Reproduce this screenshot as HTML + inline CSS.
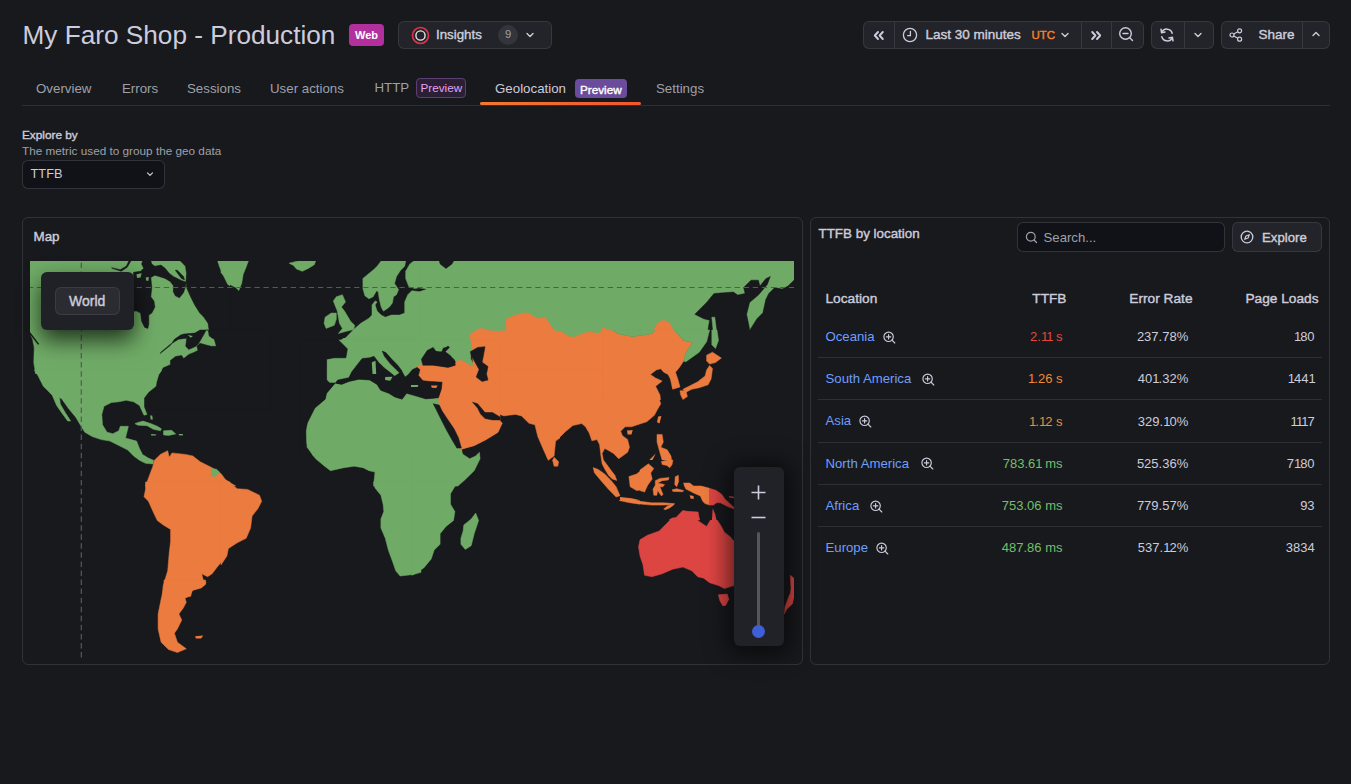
<!DOCTYPE html>
<html><head><meta charset="utf-8">
<style>
*{box-sizing:border-box;margin:0;padding:0}
html,body{width:1351px;height:784px;overflow:hidden;background:#18191d;font-family:"Liberation Sans",sans-serif;color:#ccccdc}
.abs{position:absolute}
.t{position:absolute;white-space:nowrap;line-height:1}
.med{-webkit-text-stroke:0.4px currentColor}
.btn{position:absolute;background:#232429;border:1px solid rgba(204,204,220,0.12);border-radius:6px}
.div{position:absolute;top:0;bottom:0;width:1px;background:rgba(204,204,220,0.12)}
svg{position:absolute;overflow:visible}
.tab{position:absolute;top:82.2px;font-size:13.3px;color:#9fa0aa;white-space:nowrap;line-height:1}
.panel{position:absolute;border:1px solid rgba(204,204,220,0.14);border-radius:6px}
.row{position:absolute;left:818px;width:504px;height:1px;background:rgba(204,204,220,0.12)}
.lnk{position:absolute;left:825.5px;font-size:13.2px;color:#6e9fff;white-space:nowrap;line-height:1}
.num{position:absolute;font-size:13px;white-space:nowrap;line-height:1;text-align:right}
</style></head><body>

<!-- Title -->
<div class="t" style="left:22.5px;top:21.6px;font-size:26.2px;color:#ccccdc">My Faro Shop - Production</div>
<div class="abs" style="left:349px;top:24px;width:35px;height:22px;background:#b1309e;border-radius:4px"></div>
<div class="t" style="left:355px;top:29.6px;font-size:11px;font-weight:700;color:#fff">Web</div>

<!-- Insights -->
<div class="btn" style="left:398px;top:21px;width:154px;height:28px"></div>
<svg style="left:411px;top:26px" width="19" height="19" viewBox="0 0 19 19"><circle cx="9.5" cy="9.5" r="8" fill="none" stroke="#e8324a" stroke-width="1.6"/><circle cx="9.5" cy="9.5" r="4.6" fill="none" stroke="#e6e6ee" stroke-width="1.4"/></svg>
<div class="t med" style="left:436px;top:27.7px;font-size:13.3px">Insights</div>
<div class="abs" style="left:498px;top:25px;width:20px;height:20px;border-radius:10px;background:#34353b"></div>
<div class="t" style="left:505px;top:29.4px;font-size:11.2px;color:#9fa0aa">9</div>
<svg style="left:525px;top:30px" width="10" height="10" viewBox="0 0 10 10"><path d="M2 3.5 L5 6.5 L8 3.5" fill="none" stroke="#ccccdc" stroke-width="1.4" stroke-linecap="round" stroke-linejoin="round"/></svg>

<!-- Time controls -->
<div class="btn" style="left:863px;top:21px;width:281px;height:28px">
  <div class="div" style="left:30px"></div>
  <div class="div" style="left:217px"></div>
  <div class="div" style="left:247px"></div>
</div>
<svg style="left:873px;top:30.5px" width="12" height="9" viewBox="0 0 12 9"><path d="M5 1 L1.8 4.5 L5 8 M9.8 1 L6.6 4.5 L9.8 8" fill="none" stroke="#ccccdc" stroke-width="1.9" stroke-linecap="round" stroke-linejoin="round"/></svg>
<svg style="left:902px;top:27px" width="16" height="16" viewBox="0 0 16 16"><circle cx="8" cy="8" r="6.6" fill="none" stroke="#ccccdc" stroke-width="1.3"/><path d="M8.4 4.3 V8.6 H5.6" fill="none" stroke="#ccccdc" stroke-width="1.3" stroke-linecap="round"/></svg>
<div class="t med" style="left:925.5px;top:27.9px;font-size:13.5px">Last 30 minutes</div>
<div class="t med" style="left:1031.5px;top:29.5px;font-size:11.5px;color:#f5832b">UTC</div>
<svg style="left:1060px;top:30px" width="10" height="10" viewBox="0 0 10 10"><path d="M2 3.5 L5 6.5 L8 3.5" fill="none" stroke="#ccccdc" stroke-width="1.4" stroke-linecap="round" stroke-linejoin="round"/></svg>
<svg style="left:1090px;top:30.5px" width="12" height="9" viewBox="0 0 12 9"><path d="M2.2 1 L5.4 4.5 L2.2 8 M7 1 L10.2 4.5 L7 8" fill="none" stroke="#ccccdc" stroke-width="1.9" stroke-linecap="round" stroke-linejoin="round"/></svg>
<svg style="left:1118px;top:26px" width="17" height="17" viewBox="0 0 17 17"><circle cx="7.5" cy="7.5" r="5.8" fill="none" stroke="#ccccdc" stroke-width="1.4"/><path d="M5 7.5 H10 M11.8 11.8 L14.5 14.5" fill="none" stroke="#ccccdc" stroke-width="1.4" stroke-linecap="round"/></svg>

<div class="btn" style="left:1151px;top:21px;width:63px;height:28px">
  <div class="div" style="left:32px"></div>
</div>
<svg style="left:1158px;top:26px" width="18" height="18" viewBox="0 0 18 18"><path d="M14.2 7.2 A5.6 5.6 0 0 0 3.8 6.2 M3.8 10.8 A5.6 5.6 0 0 0 14.2 11.8" fill="none" stroke="#ccccdc" stroke-width="1.5" stroke-linecap="round"/><path d="M3 3.2 L3.6 6.8 L7 6" fill="none" stroke="#ccccdc" stroke-width="1.5" stroke-linecap="round" stroke-linejoin="round"/><path d="M15 14.8 L14.4 11.2 L11 12" fill="none" stroke="#ccccdc" stroke-width="1.5" stroke-linecap="round" stroke-linejoin="round"/></svg>
<svg style="left:1193px;top:30px" width="10" height="10" viewBox="0 0 10 10"><path d="M2 3.5 L5 6.5 L8 3.5" fill="none" stroke="#ccccdc" stroke-width="1.4" stroke-linecap="round" stroke-linejoin="round"/></svg>

<div class="btn" style="left:1221px;top:21px;width:109px;height:28px">
  <div class="div" style="left:80px"></div>
</div>
<svg style="left:1229px;top:28px" width="14" height="14" viewBox="0 0 14 14"><circle cx="10.6" cy="2.8" r="2" fill="none" stroke="#ccccdc" stroke-width="1.2"/><circle cx="3" cy="7" r="2" fill="none" stroke="#ccccdc" stroke-width="1.2"/><circle cx="10.6" cy="11.2" r="2" fill="none" stroke="#ccccdc" stroke-width="1.2"/><path d="M4.8 6 L8.8 3.8 M4.8 8 L8.8 10.2" stroke="#ccccdc" stroke-width="1.2"/></svg>
<div class="t med" style="left:1258.5px;top:28px;font-size:13.5px">Share</div>
<svg style="left:1311px;top:29px" width="10" height="10" viewBox="0 0 10 10"><path d="M2 6.5 L5 3.5 L8 6.5" fill="none" stroke="#ccccdc" stroke-width="1.4" stroke-linecap="round" stroke-linejoin="round"/></svg>

<!-- Tabs -->
<div class="abs" style="left:22px;top:105px;width:1308px;height:1px;background:rgba(204,204,220,0.12)"></div>
<div class="tab" style="left:36px">Overview</div>
<div class="tab" style="left:122px">Errors</div>
<div class="tab" style="left:187px">Sessions</div>
<div class="tab" style="left:270px">User actions</div>
<div class="tab" style="left:374.5px;top:81.3px">HTTP</div>
<div class="abs" style="left:416px;top:78px;width:50px;height:20px;background:#2a1f34;border:1px solid #5c3f73;border-radius:4px"></div>
<div class="t" style="left:420.5px;top:82.3px;font-size:11.7px;color:#e2a4f5">Preview</div>
<div class="tab" style="left:495px;color:#ccccdc">Geolocation</div>
<div class="abs" style="left:575px;top:79px;width:52px;height:19px;background:#6b4c9c;border-radius:4px"></div>
<div class="t med" style="left:580px;top:83.6px;font-size:11.7px;color:#fff">Preview</div>
<div class="tab" style="left:656px">Settings</div>
<div class="abs" style="left:480px;top:102px;width:161px;height:3px;border-radius:2px;background:linear-gradient(90deg,#f5782d,#f0562f)"></div>

<!-- Explore by -->
<div class="t med" style="left:22px;top:129.9px;font-size:11.8px">Explore by</div>
<div class="t" style="left:22px;top:144.8px;font-size:11.75px;color:#9fa0aa">The metric used to group the geo data</div>
<div class="abs" style="left:22px;top:160px;width:143px;height:29px;background:#111217;border:1px solid rgba(204,204,220,0.18);border-radius:6px"></div>
<div class="t" style="left:30.5px;top:168.1px;font-size:12.8px">TTFB</div>
<svg style="left:145px;top:169px" width="10" height="10" viewBox="0 0 10 10"><path d="M2.5 3.8 L5 6.3 L7.5 3.8" fill="none" stroke="#ccccdc" stroke-width="1.2" stroke-linecap="round" stroke-linejoin="round"/></svg>

<!-- Map panel -->
<div class="panel" style="left:22px;top:217px;width:781px;height:448px"></div>
<div class="t med" style="left:33.5px;top:229.9px;font-size:13.4px">Map</div>
<div id="map" class="abs" style="left:30px;top:261px;width:764px;height:397px;overflow:hidden">
<svg width="764" height="397" viewBox="0 0 764 397" style="left:0;top:0;position:absolute">
<polygon fill="#6fab66" points="0.0,-0.0 200.0,-0.0 200.0,113.1 0.0,113.1"/>
<polygon fill="#18191d" stroke="#18191d" stroke-width="0.5" points="0.0,73.9 2.0,77.9 3.8,86.9 3.2,100.9 5.0,112.5 14.0,127.9 23.0,135.5 29.4,148.3 31.0,150.1 0.0,150.1"/>
<polygon fill="#18191d" points="0.0,70.9 9.2,83.1 8.0,83.7 0.0,73.5"/>
<polygon fill="#18191d" stroke="#18191d" stroke-width="0.5" points="28.0,136.3 33.0,137.9 40.0,150.1 36.0,150.1 30.0,141.9"/>
<polygon fill="#18191d" stroke="#18191d" stroke-width="0.5" points="112.7,-0.1 120.8,-0.1 121.8,3.1 124.9,5.2 131.0,4.1 135.1,7.2 139.2,12.3 143.3,15.4 151.4,19.4 156.0,21.0 155.5,25.6 153.5,31.7 149.4,36.8 145.3,34.8 143.3,30.7 143.3,24.6 140.2,20.5 135.1,17.4 129.0,15.4 124.9,14.3 120.8,16.4 121.8,26.6 120.8,35.8 123.9,39.9 124.9,46.0 121.8,52.1 118.8,54.1 118.8,63.3 117.8,67.4 114.7,66.4 111.6,60.3 110.6,52.1 106.5,50.1 103.5,50.1 103.5,11.3 110.6,10.3 113.7,7.2 111.6,3.1"/>
<polygon fill="#18191d" stroke="#18191d" stroke-width="0.5" points="98.9,-0.1 100.9,-0.1 97.3,6.2 91.2,10.3 82.0,7.2 81.5,6.7 90.2,8.7 96.3,5.2"/>
<polygon fill="#6fab66" points="106.5,13.3 111.6,12.3 110.6,16.4 107.0,16.9"/>
<polygon fill="#6fab66" points="115.7,16.4 118.8,15.9 118.3,20.0 116.2,19.4"/>
<polygon fill="#18191d" stroke="#18191d" stroke-width="0.5" points="150.4,-0.1 187.1,-0.1 189.2,6.2 193.3,15.4 197.3,23.5 200.0,25.6 200.0,77.0 182.0,77.0 179.0,68.4 178.0,62.3 173.9,56.2 169.8,52.1 164.7,43.9 160.6,35.8 156.5,26.6 156.0,20.5 156.5,12.3 155.5,5.2"/>
<polygon fill="#18191d" stroke="#18191d" stroke-width="0.5" points="145.3,9.2 147.3,9.2 153.5,15.4 154.5,18.9 151.4,17.4"/>
<polygon fill="#18191d" stroke="#18191d" stroke-width="0.5" points="176.1,69.0 240.0,69.0 240.0,149.0 120.0,149.0 120.0,129.2 127.1,123.1 126.1,118.0 130.2,111.9 133.3,106.8 140.4,103.7 140.4,99.6 145.5,95.5 151.6,94.5 153.7,97.6 158.8,93.5 163.9,91.4 168.0,89.4 166.9,85.3 170.0,82.3 177.1,84.3 181.2,85.3 186.3,85.3 184.3,78.2 179.2,75.1 178.2,69.0"/>
<polygon fill="#18191d" stroke="#18191d" stroke-width="0.5" points="153.7,73.1 164.9,72.1 170.0,69.0 176.1,69.0 174.1,73.1 170.0,80.2 168.0,83.3 165.9,85.3 158.8,88.4 155.7,85.3 156.7,77.2 148.6,78.2 140.4,83.3 131.2,90.9 130.2,92.5 135.3,88.4 140.4,84.3 144.5,78.2 150.6,74.1"/>
<polygon fill="#6fab66" points="157.8,74.1 162.9,75.1 160.8,76.7"/>
<polygon fill="#6fab66" stroke="#6fab66" stroke-width="0.5" points="191.0,-0.0 218.4,-0.0 216.2,5.9 213.2,13.3 211.7,22.2 208.8,29.6 205.8,26.6 199.9,23.6 195.4,16.2 191.0,11.8"/>
<polygon fill="#6fab66" stroke="#6fab66" stroke-width="0.5" points="259.1,2.2 268.0,-0.0 285.7,-0.0 284.3,3.7 278.3,7.4 272.4,10.3 266.5,8.1 263.5,4.4"/>
<polygon fill="#6fab66" stroke="#6fab66" stroke-width="0.5" points="333.1,19.2 337.6,13.3 343.5,10.3 347.9,2.9 350.9,-0.0 375.3,-0.0 368.6,8.8 365.7,19.2 367.2,26.6 362.7,35.5 361.2,45.9 356.8,48.8 353.8,54.7 349.4,47.3 346.4,41.4 347.9,34.0 340.5,38.5 334.6,34.0 333.1,26.6"/>
<polygon fill="#6fab66" stroke="#6fab66" stroke-width="0.5" points="376.0,-0.0 391.0,-0.0 391.0,26.6 382.0,28.1 374.6,20.7 374.6,13.3 379.0,2.9"/>
<polygon fill="#6fab66" stroke="#6fab66" stroke-width="0.5" points="391.0,26.6 383.5,28.8 380.5,32.5 383.5,38.5 377.5,41.4 374.6,45.9 373.1,53.3 365.7,54.7 359.8,57.7 353.8,56.2 347.9,54.7 345.0,45.9 342.0,42.9 342.0,57.7 333.1,59.2 325.7,66.6 324.2,71.0 313.9,76.9 309.4,80.6 316.8,85.8 316.8,93.2 315.4,97.7 303.5,97.7 297.6,100.6 296.8,113.1 319.8,113.1 327.2,106.5 337.6,99.1 345.0,96.2 347.9,105.1 343.5,113.1 391.0,113.1"/>
<polygon fill="#18191d" stroke="#18191d" stroke-width="0.5" points="352.4,90.3 358.3,97.7 368.6,103.6 373.1,109.5 377.5,113.1 362.7,113.1 356.8,103.6 352.4,97.7"/>
<polygon fill="#6fab66" stroke="#6fab66" stroke-width="0.5" points="306.5,35.5 312.4,34.0 315.4,39.9 312.4,47.3 316.8,54.7 321.3,59.2 324.2,65.1 321.3,69.5 313.9,71.0 308.0,72.5 312.4,66.6 309.4,62.1 308.0,56.2 306.5,48.8 303.5,45.9 305.0,39.9"/>
<polygon fill="#6fab66" stroke="#6fab66" stroke-width="0.5" points="294.6,59.2 299.1,53.3 305.0,51.8 306.5,57.7 303.5,63.6 296.1,66.6"/>
<polygon fill="#6fab66" stroke="#6fab66" stroke-width="0.5" points="342.0,42.9 346.4,39.9 347.9,45.9 350.9,51.8 347.9,56.2 345.0,54.7 342.0,56.2"/>
<polygon fill="#6fab66" points="382.0,-0.0 582.0,-0.0 582.0,113.1 382.0,113.1"/>
<polygon fill="#18191d" stroke="#18191d" stroke-width="0.5" points="409.4,-0.0 423.5,-0.0 422.0,2.9 416.0,7.4 410.1,2.9"/>
<polygon fill="#18191d" points="382.0,26.6 396.8,28.1 387.9,31.0 382.0,31.8"/>
<polygon fill="#18191d" stroke="#18191d" stroke-width="0.5" points="392.4,100.6 396.8,88.8 401.2,86.6 405.7,90.3 411.6,91.7 413.1,87.3 419.7,85.1 414.6,90.3 420.5,94.7 426.4,102.1 422.0,106.5 404.2,105.1 395.3,103.6"/>
<polygon fill="#eb7b3e" stroke="#eb7b3e" stroke-width="0.5" points="386.4,113.1 387.9,103.6 404.2,105.1 422.0,106.5 426.4,100.6 430.9,99.1 441.2,105.1 447.1,109.5 447.1,113.1"/>
<polygon fill="#eb7b3e" stroke="#eb7b3e" stroke-width="0.5" points="439.7,74.0 445.7,69.5 451.6,67.3 459.0,69.5 466.4,70.3 476.7,69.5 475.3,65.1 476.7,57.7 485.6,54.0 496.0,51.8 500.4,53.3 507.8,57.7 515.2,56.2 524.1,69.5 531.5,71.0 538.9,75.5 544.8,76.2 552.2,72.5 559.6,71.0 570.0,72.5 573.0,66.6 578.9,68.1 582.0,71.0 582.0,113.1 456.0,113.1 459.0,105.1 454.5,100.6 451.6,94.7 456.0,91.7 454.5,85.8 447.1,87.3 444.2,85.8 441.2,81.4"/>
<polygon fill="#18191d" stroke="#18191d" stroke-width="0.5" points="441.2,91.7 447.1,87.3 454.5,85.8 456.0,91.7 451.6,94.7 454.5,100.6 459.0,105.1 456.0,113.1 447.1,113.1 444.2,103.6 441.2,97.7"/>
<polygon fill="#6fab66" points="573.0,-0.0 764.0,-0.0 764.0,113.1 573.0,113.1"/>
<polygon fill="#18191d" stroke="#18191d" stroke-width="0.5" points="764.0,19.2 758.0,25.1 752.1,28.1 744.7,26.6 738.8,32.5 735.8,38.5 732.9,51.8 727.0,57.7 719.6,69.5 715.1,75.5 706.2,84.3 697.4,90.3 691.4,94.7 685.5,103.6 682.5,113.1 764.0,113.1"/>
<polygon fill="#18191d" stroke="#18191d" stroke-width="0.5" points="664.8,53.3 676.6,41.4 684.0,32.5 703.3,31.0 707.7,34.0 715.1,32.5 713.6,26.6 721.0,19.2 728.4,19.2 729.9,25.1 735.8,17.7 740.3,15.5 737.3,23.6 728.4,34.0 719.6,41.4 716.6,53.3 719.6,68.1 715.1,75.5 706.2,84.3 697.4,90.3 691.4,94.7 685.5,103.6 682.5,113.1 645.5,113.1 651.5,106.5 660.3,100.6 669.2,91.7 676.6,76.9 679.6,59.2 673.7,57.7"/>
<polygon fill="#6fab66" stroke="#6fab66" stroke-width="0.5" points="681.8,56.2 684.8,56.2 687.0,74.0 688.5,79.9 685.5,87.3 682.5,84.3 683.3,71.0"/>
<polygon fill="#eb7b3e" stroke="#eb7b3e" stroke-width="0.5" points="676.6,93.2 682.5,91.7 691.4,97.7 685.5,102.1 679.6,103.6 676.6,100.6"/>
<polygon fill="#eb7b3e" points="676.6,103.6 681.1,103.6 679.6,113.1 676.6,113.1"/>
<polygon fill="#eb7b3e" stroke="#eb7b3e" stroke-width="0.5" points="573.0,65.8 580.4,71.0 590.8,74.0 602.6,75.5 611.5,73.2 620.4,74.0 627.8,62.1 633.7,59.2 639.6,62.1 644.1,71.0 652.9,76.9 655.9,81.4 663.3,81.4 660.3,88.8 655.9,93.2 654.4,100.6 645.5,113.1 573.0,113.1"/>
<polygon fill="#eb7b3e" points="621.9,113.1 629.3,108.0 635.2,109.5 639.6,113.1"/>
<polygon fill="#6fab66" stroke="#6fab66" stroke-width="0.5" points="4.4,109.0 131.8,109.0 128.8,113.4 126.6,120.8 125.8,125.3 118.4,131.2 114.0,137.1 114.0,146.0 117.0,153.4 114.0,154.2 109.5,144.5 103.6,140.8 96.2,139.3 88.8,140.8 81.4,141.6 74.0,145.3 71.8,153.4 72.5,163.8 77.0,171.2 82.9,172.7 88.8,169.7 90.3,165.3 98.4,165.3 95.5,177.1 106.6,180.1 109.5,187.5 112.5,193.4 118.4,197.1 123.6,199.3 122.9,203.0 115.5,202.3 109.5,199.3 103.6,194.9 97.7,188.9 88.8,184.5 79.9,180.1 71.1,178.6 62.2,175.6 54.8,171.2 51.1,165.3 45.9,156.4 38.5,147.5 31.8,137.9 29.6,136.4 30.3,143.0 35.5,151.9 40.7,160.1 37.7,160.1 31.8,151.9 26.6,144.5 22.2,134.2 17.8,129.7 13.3,125.3 8.1,114.9"/>
<polygon fill="#eb7b3e" stroke="#eb7b3e" stroke-width="0.5" points="115.5,225.1 122.9,205.2 124.4,199.3 130.3,193.4 137.7,189.7 139.2,196.3 142.1,191.9 155.4,193.4 162.8,194.9 170.2,200.8 182.1,206.7 191.0,212.6 195.4,218.5 200.0,221.5 200.0,225.1"/>
<polygon fill="#6fab66" stroke="#6fab66" stroke-width="0.5" points="181.3,207.4 186.5,208.2 189.5,211.1 185.0,215.6 181.3,214.8"/>
<polygon fill="#6fab66" stroke="#6fab66" stroke-width="0.5" points="297.6,109.0 318.3,109.0 319.8,113.4 315.4,117.9 308.0,120.1 303.5,120.8 297.6,117.9 296.1,112.0"/>
<polygon fill="#6fab66" stroke="#6fab66" stroke-width="0.5" points="305.0,122.3 309.4,123.8 316.8,122.3 324.2,120.8 333.1,120.1 346.4,119.4 347.9,126.8 353.8,131.2 365.7,135.6 370.1,138.6 373.1,134.2 377.5,132.7 391.0,135.6 391.0,225.1 343.5,225.1 345.0,211.1 339.0,209.7 333.1,206.7 324.2,205.2 313.9,206.7 300.5,209.7 294.6,205.2 285.7,197.8 281.3,191.9 276.9,186.0 278.3,172.7 276.9,165.3 279.8,157.9 285.7,149.0 291.7,144.5 296.1,140.1 296.1,134.2 300.5,129.7 303.5,125.3"/>
<polygon fill="#6fab66" points="342.0,109.0 345.7,109.0 345.0,112.7 342.0,112.7"/>
<polygon fill="#6fab66" points="352.4,115.7 361.2,114.2 358.3,119.4"/>
<polygon fill="#6fab66" points="371.6,109.0 383.5,109.0 383.5,120.8 374.6,117.9"/>
<polygon fill="#eb7b3e" points="386.4,109.0 391.0,109.0 391.0,117.9 387.9,114.9"/>
<polygon fill="#eb7b3e" stroke="#eb7b3e" stroke-width="0.5" points="191.0,215.6 194.0,218.5 199.9,221.5 205.8,225.1 191.0,225.1"/>
<polygon fill="#eb7b3e" stroke="#eb7b3e" stroke-width="0.5" points="387.9,109.0 582.0,109.0 582.0,187.5 574.5,189.7 573.0,196.3 582.0,209.7 582.0,225.1 578.9,225.1 574.5,212.6 568.5,200.8 567.0,191.9 567.0,178.6 559.6,178.6 556.7,168.2 552.2,163.8 541.9,165.3 536.0,172.7 525.6,180.1 524.1,194.9 518.2,199.3 512.3,186.0 507.8,175.6 504.9,163.8 499.0,162.3 491.5,154.9 485.6,153.4 473.8,154.9 464.9,151.2 472.3,162.3 467.9,171.2 456.0,178.6 444.2,184.5 430.9,188.2 426.4,180.1 419.0,165.3 411.6,149.0 405.7,143.0 408.6,138.6 411.6,128.2 411.6,120.8 405.7,120.1 396.8,120.8 390.9,117.9"/>
<polygon fill="#18191d" stroke="#18191d" stroke-width="0.5" points="442.7,140.8 447.1,140.1 451.6,146.0 459.0,149.7 464.2,149.0 466.4,153.4 472.3,160.8 469.3,159.3 461.9,153.4 456.0,157.1 451.6,153.4 447.9,151.9 445.7,146.0"/>
<polygon fill="#18191d" stroke="#18191d" stroke-width="0.5" points="445.7,109.0 457.5,109.0 457.5,119.4 451.6,120.1 445.7,116.4"/>
<polygon fill="#6fab66" stroke="#6fab66" stroke-width="0.5" points="382.0,135.6 396.8,137.1 405.7,140.1 405.7,144.5 411.6,157.9 419.0,171.2 426.4,183.0 430.9,191.9 439.7,197.8 445.7,194.9 449.4,191.2 450.1,197.8 444.2,209.7 435.3,218.5 427.9,225.1 382.0,225.1"/>
<polygon fill="#eb7b3e" stroke="#eb7b3e" stroke-width="0.5" points="524.1,196.3 528.6,200.8 527.8,205.2 524.1,205.2 522.6,199.3"/>
<polygon fill="#eb7b3e" stroke="#eb7b3e" stroke-width="0.5" points="573.0,109.0 623.3,109.0 621.9,113.4 626.3,119.4 632.2,123.8 629.3,126.8 624.8,131.2 629.3,138.6 626.3,147.5 620.4,154.9 613.0,160.8 605.6,163.8 598.2,165.3 590.8,171.2 593.7,175.6 598.2,183.0 596.7,191.9 589.3,197.8 581.9,191.9 576.0,187.5 573.0,186.0"/>
<polygon fill="#eb7b3e" stroke="#eb7b3e" stroke-width="0.5" points="629.3,109.0 650.0,109.0 648.5,117.9 647.0,125.3 642.6,123.8 638.1,117.9 630.7,114.9"/>
<polygon fill="#eb7b3e" stroke="#eb7b3e" stroke-width="0.5" points="679.6,109.0 682.5,109.0 679.6,117.9 673.7,125.3 661.8,131.2 654.4,138.6 651.5,137.1 654.4,129.7 664.8,128.2 676.6,120.8"/>
<polygon fill="#eb7b3e" points="627.8,154.9 630.7,154.9 629.3,162.3 626.3,162.3"/>
<polygon fill="#eb7b3e" points="596.7,169.7 602.6,169.0 601.1,174.1 596.7,174.1"/>
<polygon fill="#eb7b3e" stroke="#eb7b3e" stroke-width="0.5" points="626.3,174.1 632.2,172.7 633.7,183.0 638.1,188.9 641.1,194.9 642.6,205.2 636.7,205.2 632.2,197.8 629.3,188.9 624.8,183.0"/>
<polygon fill="#eb7b3e" stroke="#eb7b3e" stroke-width="0.5" points="573.0,200.8 578.9,206.7 584.8,215.6 587.8,225.1 573.0,225.1"/>
<polygon fill="#eb7b3e" stroke="#eb7b3e" stroke-width="0.5" points="598.2,225.1 608.5,212.6 617.4,205.2 620.4,209.7 623.3,215.6 621.9,225.1"/>
<polygon fill="#eb7b3e" stroke="#eb7b3e" stroke-width="0.5" points="623.3,225.1 626.3,218.5 635.2,217.1 641.1,221.5 644.1,225.1"/>
<polygon fill="#eb7b3e" stroke="#eb7b3e" stroke-width="0.5" points="115.5,221.0 200.0,221.0 200.0,283.2 195.4,290.6 192.5,299.5 186.5,306.9 182.1,312.8 177.6,315.7 171.7,312.8 173.2,318.7 176.2,321.7 171.7,326.1 162.8,329.1 159.9,333.5 155.4,337.1 131.8,337.1 133.2,324.6 137.7,309.8 139.2,292.1 140.6,280.2 140.6,268.4 133.2,263.9 127.3,259.5 124.4,253.6 118.4,240.2 114.0,235.8 115.5,228.4"/>
<polygon fill="#eb7b3e" stroke="#eb7b3e" stroke-width="0.5" points="191.0,221.0 199.9,222.5 207.3,227.7 217.6,228.4 229.5,234.3 231.7,240.2 228.0,247.6 222.1,255.0 220.6,266.9 216.2,277.3 207.3,281.7 198.4,287.6 196.9,295.0 191.0,303.9"/>
<polygon fill="#6fab66" stroke="#6fab66" stroke-width="0.5" points="343.5,221.0 391.0,221.0 391.0,311.3 383.5,313.5 370.1,315.0 365.7,309.8 362.7,300.9 358.3,289.1 355.3,277.3 350.9,266.9 350.9,258.0 353.8,250.6 353.1,243.2 350.9,234.3 345.0,226.9"/>
<polygon fill="#6fab66" stroke="#6fab66" stroke-width="0.5" points="382.0,221.0 429.4,221.0 424.9,225.4 420.5,232.8 420.5,243.2 424.9,250.6 423.5,259.5 416.0,265.4 410.1,272.8 410.1,283.2 404.2,289.1 401.2,298.0 393.8,306.9 382.0,314.3"/>
<polygon fill="#6fab66" stroke="#6fab66" stroke-width="0.5" points="445.7,252.1 448.6,259.5 444.2,272.8 441.2,284.7 435.3,288.4 430.9,283.2 430.9,277.3 433.1,269.9 433.8,263.9 441.2,258.0"/>
<polygon fill="#eb7b3e" points="573.0,221.0 582.0,221.0 582.0,231.4 577.4,226.9"/>
<polygon fill="#dd4543" stroke="#dd4543" stroke-width="0.5" points="610.0,278.7 617.4,274.3 629.3,269.9 635.2,263.9 641.1,258.0 650.0,255.0 654.4,249.9 661.8,251.3 667.7,255.0 667.7,259.5 676.6,265.4 681.1,258.0 682.5,249.1 685.5,256.5 691.4,265.4 694.4,271.3 700.3,275.8 704.0,280.2 704.0,324.6 694.4,327.6 688.5,324.6 679.6,321.7 673.7,317.2 667.7,315.7 661.8,309.8 652.9,306.1 642.6,308.3 632.2,312.8 621.9,315.7 614.5,314.3 613.0,303.9 610.0,295.0 608.5,286.1"/>
<polygon fill="#dd4543" stroke="#dd4543" stroke-width="0.5" points="679.6,227.7 690.0,232.8 695.9,238.8 703.3,246.2 701.8,248.4 691.4,243.2 685.5,240.2 679.6,243.9"/>
<polygon fill="#eb7b3e" stroke="#eb7b3e" stroke-width="0.5" points="655.9,224.0 664.8,224.7 670.7,226.9 679.6,227.7 679.6,243.9 673.7,240.2 667.7,234.3 660.3,229.9 655.9,228.4"/>
<polygon fill="#eb7b3e" stroke="#eb7b3e" stroke-width="0.5" points="573.0,221.0 584.8,221.0 590.8,232.8 587.8,235.8 581.9,229.9 573.0,224.0"/>
<polygon fill="#eb7b3e" stroke="#eb7b3e" stroke-width="0.5" points="587.8,235.8 599.6,237.3 611.5,240.2 617.4,243.2 610.0,243.2 599.6,241.7 589.3,239.5"/>
<polygon fill="#eb7b3e" stroke="#eb7b3e" stroke-width="0.5" points="599.6,221.0 617.4,221.0 615.9,229.9 608.5,229.9 601.1,226.9"/>
<polygon fill="#eb7b3e" stroke="#eb7b3e" stroke-width="0.5" points="623.3,224.0 632.2,224.0 632.2,234.3 627.8,232.8 624.8,229.9"/>
<polygon fill="#eb7b3e" stroke="#eb7b3e" stroke-width="0.5" points="617.4,243.2 635.2,242.5 642.6,243.9 635.2,247.6 624.8,245.4"/>
<polygon fill="#dd4543" stroke="#dd4543" stroke-width="0.5" points="760.3,314.3 764.0,317.2 764.0,337.1 759.5,337.1 761.0,327.6"/>
<polygon fill="#eb7b3e" stroke="#eb7b3e" stroke-width="0.5" points="134.0,319.0 175.5,319.0 175.5,323.4 171.1,327.1 162.2,329.4 160.7,335.3 154.8,336.8 156.3,341.2 153.3,347.1 148.9,353.0 151.8,359.0 147.4,367.9 144.4,372.3 147.4,381.2 156.3,387.8 147.4,391.5 138.5,388.6 131.1,381.2 128.1,367.9 128.1,353.0 131.1,338.2 134.0,327.9"/>
<polygon fill="#eb7b3e" points="165.1,375.3 173.3,374.5 171.1,377.5 165.9,377.5"/>
<polygon fill="#dd4543" stroke="#dd4543" stroke-width="0.5" points="688.4,333.8 697.3,333.1 698.8,338.2 695.8,344.2 692.9,344.9 689.9,339.7"/>
<polygon fill="#dd4543" stroke="#dd4543" stroke-width="0.5" points="759.5,333.8 763.9,335.3 762.5,342.7 756.5,348.6 754.3,353.0 755.0,345.6"/>
<polygon fill="#6fab66" stroke="#6fab66" stroke-width="0.5" points="308.5,79.0 440.2,79.0 424.0,99.0 418.0,84.9 403.2,86.4 397.3,89.4 391.4,98.2 388.4,103.4 387.0,106.4 382.5,108.6 378.1,113.8 375.1,116.0 372.1,110.8 369.2,112.3 364.7,115.3 360.3,111.6 354.4,107.1 348.5,101.2 344.0,95.3 339.6,96.8 332.2,97.5 329.2,101.2 321.8,110.8 318.9,116.7 307.7,119.0 305.5,121.9 299.6,121.9 296.6,119.0 296.6,98.2 304.0,96.8 315.9,96.8 317.4,87.9"/>
<polygon fill="#6fab66" stroke="#6fab66" stroke-width="0.5" points="305.5,123.4 311.5,123.4 318.9,120.5 329.2,118.2 339.6,119.0 347.0,123.4 350.7,129.3 358.8,132.3 364.7,136.0 372.1,138.2 376.6,132.3 387.0,135.3 395.8,137.9 408.4,136.7 409.2,142.7 412.1,150.1 418.0,158.9 424.0,167.8 428.4,176.7 431.4,187.1 432.8,195.1 283.3,195.1 276.7,182.6 275.9,161.9 284.8,147.1 295.2,138.2 296.6,132.3 304.0,123.4"/>
<polygon fill="#eb7b3e" stroke="#eb7b3e" stroke-width="0.5" points="388.4,104.2 392.9,104.9 403.2,104.2 418.0,106.4 425.4,104.2 443.2,105.6 441.7,79.0 470.0,79.0 470.0,166.3 467.9,171.2 455.9,178.6 444.1,184.6 430.9,188.3 428.4,176.7 424.0,167.8 418.0,158.9 412.1,150.1 409.2,142.7 408.4,136.7 411.4,127.9 412.1,121.2 400.3,120.5 392.9,119.7 388.4,114.5"/>
<polygon fill="#18191d" stroke="#18191d" stroke-width="0.5" points="305.5,121.9 307.7,119.0 318.9,116.7 321.8,110.8 329.2,101.2 332.2,97.5 339.6,96.8 344.0,95.3 348.5,101.2 354.4,107.1 360.3,111.6 364.7,115.3 369.2,112.3 372.1,110.8 375.1,116.0 378.1,113.8 382.5,108.6 387.0,106.4 389.9,108.6 388.4,114.5 392.9,119.7 400.3,120.5 412.1,121.2 411.4,127.9 408.4,136.7 395.8,137.9 387.0,135.3 376.6,132.3 372.1,138.2 364.7,136.0 358.8,132.3 350.7,129.3 347.0,123.4 339.6,119.0 329.2,118.2 318.9,120.5 311.5,123.4"/>
<polygon fill="#18191d" stroke="#18191d" stroke-width="0.5" points="352.2,90.1 355.9,91.6 361.8,98.2 367.7,104.2 372.1,110.1 370.7,113.0 366.2,108.6 360.3,102.7 354.4,95.3"/>
<polygon fill="#6fab66" points="341.8,101.2 345.5,99.7 346.2,113.0 342.5,113.0"/>
<polygon fill="#6fab66" points="355.1,116.0 362.5,115.7 360.3,119.7 355.1,119.0"/>
<polygon fill="#6fab66" points="381.0,123.9 388.4,123.9 387.7,125.9 381.0,125.9"/>
<polygon fill="#eb7b3e" points="401.0,124.6 407.7,124.6 406.2,127.1 401.8,126.7"/>
<polygon fill="#18191d" stroke="#18191d" stroke-width="0.5" points="391.4,98.2 397.3,89.4 403.2,86.4 406.2,90.8 412.1,90.8 418.0,84.9 419.5,86.4 413.6,92.3 424.0,98.2 425.4,104.2 418.0,106.4 403.2,104.2 392.9,104.2"/>
<polygon fill="#18191d" stroke="#18191d" stroke-width="0.5" points="440.2,90.8 447.6,86.4 455.0,85.7 453.6,93.8 452.1,101.2 458.0,105.6 456.5,113.0 458.0,119.0 452.1,120.5 446.2,116.0 449.1,108.6 441.7,95.3"/>
<polygon fill="#18191d" stroke="#18191d" stroke-width="0.5" points="442.5,141.2 447.6,142.7 455.0,151.5 462.5,151.5 470.0,156.0 470.0,158.9 462.5,158.9 455.0,157.5 450.6,153.0 447.6,147.1"/>
<polygon fill="#18191d" stroke="#18191d" stroke-width="0.5" points="403.2,142.7 409.2,144.1 412.1,150.1 418.0,158.9 424.0,167.8 428.4,176.7 431.4,187.1 426.9,187.1 422.5,179.7 416.6,169.3 410.6,157.5 406.2,148.6"/>
<polygon fill="#18191d" stroke="#18191d" stroke-width="0.5" points="270.0,79.0 308.5,79.0 317.4,87.9 315.9,96.8 304.0,96.8 296.6,98.2 296.6,119.0 299.6,121.9 305.5,121.9 304.0,123.4 296.6,132.3 295.2,138.2 284.8,147.1 277.4,161.9 270.0,195.1"/>
<polygon fill="#18191d" points="573.0,69.0 773.0,69.0 773.0,185.1 573.0,185.1"/>
<polygon fill="#eb7b3e" stroke="#eb7b3e" stroke-width="0.5" points="573.0,69.0 581.9,69.0 587.8,72.7 602.6,75.7 621.9,72.7 624.8,69.0 644.1,69.0 653.7,79.4 662.6,81.6 655.9,91.2 653.7,100.1 649.2,106.7 645.5,111.2 647.8,117.9 650.0,126.0 642.6,128.2 640.4,117.9 638.1,113.4 633.7,111.2 630.7,107.8 626.3,109.0 620.4,113.4 625.6,117.1 632.2,120.1 625.6,125.3 630.0,134.1 630.7,141.5 626.3,148.9 624.1,157.8 613.0,162.3 602.6,165.2 592.2,168.2 590.8,172.6 596.7,178.5 598.9,185.1 573.0,185.1"/>
<polygon fill="#6fab66" stroke="#6fab66" stroke-width="0.5" points="581.9,69.0 624.8,69.0 621.9,72.7 602.6,75.7 587.8,72.7"/>
<polygon fill="#6fab66" stroke="#6fab66" stroke-width="0.5" points="644.1,69.0 679.6,69.0 676.6,80.8 669.2,91.2 655.9,100.8 653.7,100.1 655.9,91.2 662.6,81.6 653.7,79.4"/>
<polygon fill="#6fab66" stroke="#6fab66" stroke-width="0.5" points="681.8,69.0 687.0,69.0 688.5,79.4 685.5,87.5 681.8,83.8"/>
<polygon fill="#eb7b3e" stroke="#eb7b3e" stroke-width="0.5" points="676.6,94.2 682.5,91.2 691.4,97.1 685.5,101.6 679.6,103.0 676.6,100.1"/>
<polygon fill="#eb7b3e" stroke="#eb7b3e" stroke-width="0.5" points="679.6,104.5 682.5,107.5 681.1,117.9 678.1,123.8 669.2,126.7 661.8,128.2 655.9,131.2 652.9,128.2 658.9,125.3 667.7,120.8 675.1,114.9 676.6,109.0"/>
<polygon fill="#eb7b3e" stroke="#eb7b3e" stroke-width="0.5" points="650.0,129.7 655.9,129.7 657.4,135.6 652.9,138.6 650.7,134.1"/>
<polygon fill="#eb7b3e" points="626.3,155.6 630.7,154.9 629.3,163.7 626.3,162.3"/>
<polygon fill="#eb7b3e" points="626.3,172.6 632.2,172.6 633.0,185.1 627.0,185.1"/>
<polygon fill="#eb7b3e" points="596.7,168.9 602.6,168.2 601.9,173.4 597.4,173.4"/>
<polygon fill="#18191d" points="530.0,139.0 690.0,139.0 690.0,239.0 530.0,239.0"/>
<polygon fill="#eb7b3e" stroke="#eb7b3e" stroke-width="0.5" points="530.0,139.0 629.5,139.0 630.8,142.8 627.0,149.2 624.4,154.3 616.8,160.7 609.1,163.2 601.5,165.8 595.1,165.8 590.6,170.3 592.5,174.7 597.6,178.6 599.5,186.2 597.6,191.3 592.5,195.1 588.7,197.7 583.6,192.6 578.5,189.4 574.7,187.5 572.1,192.6 573.4,199.0 577.2,204.1 581.0,209.2 584.9,214.3 586.8,219.4 582.3,218.1 578.5,214.3 574.7,207.9 572.1,202.8 570.8,193.9 569.6,183.7 567.0,178.6 561.9,179.8 559.3,172.2 555.5,165.8 551.7,162.6 542.8,164.5 535.1,170.9 530.0,176.0"/>
<polygon fill="#eb7b3e" points="628.2,155.6 631.4,154.9 629.5,162.6 627.0,161.3"/>
<polygon fill="#eb7b3e" points="597.0,169.6 602.7,169.0 601.5,173.4 597.6,173.4"/>
<polygon fill="#eb7b3e" stroke="#eb7b3e" stroke-width="0.5" points="627.0,173.4 632.1,173.4 633.3,181.1 630.8,186.2 637.2,188.8 641.0,195.1 642.3,205.3 637.2,205.3 632.1,199.0 629.5,190.0 627.0,181.1"/>
<polygon fill="#eb7b3e" points="619.3,199.0 625.7,192.6 621.9,200.2"/>
<polygon fill="#eb7b3e" stroke="#eb7b3e" stroke-width="0.5" points="598.9,215.6 606.6,213.0 612.9,207.9 619.3,204.1 621.9,207.9 620.6,215.6 616.8,228.3 606.6,229.6 600.2,225.8"/>
<polygon fill="#eb7b3e" stroke="#eb7b3e" stroke-width="0.5" points="563.2,206.6 568.3,208.5 574.7,213.0 581.0,219.4 586.1,225.8 590.0,234.7 586.1,236.0 578.5,228.3 570.8,219.4 564.4,211.7"/>
<polygon fill="#eb7b3e" points="590.0,236.0 601.5,237.2 609.1,239.0 590.0,239.0"/>
<polygon fill="#eb7b3e" stroke="#eb7b3e" stroke-width="0.5" points="624.4,218.1 629.5,218.1 638.5,216.8 632.1,221.9 629.5,228.3 633.3,236.0 628.2,234.7 624.4,228.3"/>
<polygon fill="#eb7b3e" stroke="#eb7b3e" stroke-width="0.5" points="652.5,223.2 661.4,223.2 667.8,225.8 679.3,227.0 679.3,239.0 652.5,239.0"/>
<polygon fill="#dd4543" points="679.3,227.0 690.0,230.9 690.0,239.0 679.3,239.0"/>
<polygon fill="#eb7b3e" points="644.8,215.6 648.7,215.6 647.4,221.9"/>
<polygon fill="#6fab66" stroke="#6fab66" stroke-width="0.5" points="104.9,162.7 108.0,161.4 113.1,160.1 121.2,162.7 127.3,165.2 131.4,167.8 130.4,169.8 123.3,168.3 117.1,164.7 108.0,164.2"/>
<polygon fill="#6fab66" stroke="#6fab66" stroke-width="0.5" points="133.5,169.8 141.6,169.3 145.7,172.9 138.6,174.4 133.5,173.9"/>
<polygon fill="#6fab66" points="121.2,172.9 126.3,173.4 125.8,174.6 121.2,174.4"/>
<polygon fill="#6fab66" points="148.8,172.9 152.9,173.1 152.7,174.4 148.8,174.2"/>
<polygon fill="#6fab66" points="120.2,154.5 122.2,154.5 122.8,158.6 120.7,158.6"/>
<polygon fill="#18191d" points="610.0,199.0 710.0,199.0 710.0,259.0 610.0,259.0"/>
<polygon fill="#eb7b3e" stroke="#eb7b3e" stroke-width="0.5" points="610.0,208.9 618.4,202.8 623.8,207.4 620.7,212.0 622.2,218.1 617.7,224.2 614.6,231.1 610.0,229.6"/>
<polygon fill="#eb7b3e" stroke="#eb7b3e" stroke-width="0.5" points="625.3,219.7 629.9,217.4 639.1,216.6 638.3,218.9 632.2,219.7 627.6,222.0 634.5,223.5 633.0,225.8 629.9,225.8 633.0,233.4 631.4,235.0 627.6,229.6 626.8,234.2 623.8,234.2 623.0,228.1 625.3,224.2"/>
<polygon fill="#eb7b3e" stroke="#eb7b3e" stroke-width="0.5" points="631.4,200.5 637.5,199.0 642.9,199.0 642.1,203.6 639.8,206.7 636.8,204.4 632.2,203.6"/>
<polygon fill="#eb7b3e" stroke="#eb7b3e" stroke-width="0.5" points="645.2,215.8 648.3,214.3 648.6,220.4 646.7,225.8 644.8,223.5"/>
<polygon fill="#eb7b3e" stroke="#eb7b3e" stroke-width="0.5" points="642.1,228.8 646.7,227.7 653.6,229.6 652.8,230.8 642.9,230.4"/>
<polygon fill="#eb7b3e" stroke="#eb7b3e" stroke-width="0.5" points="653.6,222.0 659.7,222.0 663.6,225.0 671.2,225.0 679.6,227.3 679.6,244.1 675.0,242.6 672.7,240.3 670.4,235.0 663.6,231.9 659.0,229.6 655.9,228.1 654.4,225.0"/>
<polygon fill="#dd4543" stroke="#dd4543" stroke-width="0.5" points="679.6,227.3 686.5,229.6 691.9,233.4 694.9,238.0 704.1,246.4 704.1,248.0 698.0,245.7 690.3,241.8 686.5,241.8 683.5,244.1 679.6,244.1"/>
<polygon fill="#dd4543" points="698.8,235.0 704.1,235.7 704.1,237.3 699.5,236.5"/>
<polygon fill="#eb7b3e" stroke="#eb7b3e" stroke-width="0.5" points="610.0,240.3 621.5,241.8 633.0,241.8 643.7,242.6 642.9,243.8 633.0,244.1 621.5,244.1 610.0,243.0"/>
<polygon fill="#eb7b3e" stroke="#eb7b3e" stroke-width="0.5" points="633.7,248.0 637.5,244.9 644.4,242.6 643.7,244.1 639.1,247.2 635.2,248.7"/>
<polygon fill="#eb7b3e" points="659.7,234.2 663.6,235.0 663.6,238.0 660.5,237.6"/>
<polygon fill="#dd4543" stroke="#dd4543" stroke-width="0.5" points="639.1,259.0 642.1,257.1 646.0,256.4 652.8,249.5 657.4,250.3 668.1,251.0 668.9,255.6 669.7,259.0"/>
<polygon fill="#dd4543" points="681.9,259.0 682.7,247.2 685.0,252.6 686.5,259.0"/>
<polygon fill="#18191d" points="290.0,-0.1 390.0,-0.1 390.0,77.0 290.0,77.0"/>
<polygon fill="#6fab66" stroke="#6fab66" stroke-width="0.5" points="351.2,-0.1 375.7,-0.1 374.7,5.2 370.6,9.2 366.5,15.4 364.5,22.5 368.6,28.6 366.5,33.7 363.5,35.8 362.4,41.9 359.4,46.0 355.3,49.0 353.3,50.1 351.2,46.0 349.2,37.8 348.2,30.7 346.6,29.7 343.1,35.8 339.0,37.8 334.9,34.8 332.9,27.6 332.9,17.4 338.0,13.3 344.1,8.2 347.1,5.2"/>
<polygon fill="#6fab66" stroke="#6fab66" stroke-width="0.5" points="383.9,-0.1 390.0,-0.1 390.0,26.6 384.9,27.6 378.8,25.6 375.7,17.4 375.7,10.3 379.8,3.1"/>
<polygon fill="#6fab66" stroke="#6fab66" stroke-width="0.5" points="390.0,30.7 390.0,77.0 315.5,77.0 323.7,68.4 330.8,62.3 339.0,57.2 342.0,54.1 342.0,43.9 345.1,39.9 347.1,40.9 345.1,43.9 347.1,50.1 351.2,54.1 355.3,56.2 361.4,54.1 369.6,54.1 374.7,52.1 374.7,40.9 377.8,33.7 381.8,29.7"/>
<polygon fill="#6fab66" stroke="#6fab66" stroke-width="0.5" points="306.3,35.8 312.4,33.7 315.5,40.9 311.4,46.0 314.5,50.1 320.6,60.3 324.7,64.3 323.7,68.4 315.5,70.5 308.4,72.5 312.4,67.4 309.4,62.3 308.4,56.2 307.3,50.1 305.3,45.0 303.3,39.9"/>
<polygon fill="#6fab66" stroke="#6fab66" stroke-width="0.5" points="295.1,56.2 301.2,52.1 306.3,52.1 306.3,58.2 304.3,64.3 296.1,67.4 294.1,62.3"/>
</svg>
<svg width="764" height="397" style="left:0;top:0"><path d="M51.3 0 V397" stroke="#56585c" stroke-width="1.2" stroke-dasharray="5.5 3.56" stroke-dashoffset="-1.45"/><path d="M0 26.5 H764" stroke="#56585c" stroke-width="1" stroke-dasharray="5.3 3.76" stroke-dashoffset="-7"/></svg>
</div>
<div class="abs" style="left:41px;top:272px;width:93px;height:58px;background:#202127;border-radius:6px;box-shadow:0 10px 22px rgba(0,0,0,0.7)"></div>
<div class="abs" style="left:55px;top:287px;width:65px;height:28px;background:#2b2c32;border:1px solid rgba(204,204,220,0.1);border-radius:6px"></div>
<div class="t med" style="left:69px;top:294px;font-size:14px">World</div>

<!-- Table panel -->
<div class="panel" style="left:810px;top:217px;width:520px;height:448px"></div>
<div class="t med" style="left:818.5px;top:226.6px;font-size:13.4px">TTFB by location</div>
<div class="abs" style="left:1017px;top:222px;width:208px;height:30px;background:#111217;border:1px solid rgba(204,204,220,0.18);border-radius:6px"></div>
<svg style="left:1025px;top:231px" width="13" height="13" viewBox="0 0 13 13"><circle cx="5.8" cy="5.8" r="4.4" fill="none" stroke="#9fa0aa" stroke-width="1.2"/><path d="M9 9 L11.5 11.5" stroke="#9fa0aa" stroke-width="1.2" stroke-linecap="round"/></svg>
<div class="t" style="left:1043.5px;top:230.9px;font-size:13.2px;color:#9fa0aa">Search...</div>
<div class="btn" style="left:1232px;top:222px;width:90px;height:30px"></div>
<svg style="left:1240px;top:230px" width="14" height="14" viewBox="0 0 14 14"><circle cx="7" cy="7" r="5.8" fill="none" stroke="#ccccdc" stroke-width="1.3"/><path d="M9.3 4.7 L8 8 L4.7 9.3 L6 6 Z" fill="none" stroke="#ccccdc" stroke-width="1.2" stroke-linejoin="round"/></svg>
<div class="t med" style="left:1262px;top:230.9px;font-size:13.2px">Explore</div>

<!-- table header -->
<div class="t med" style="left:825.5px;top:291.5px;font-size:13.7px">Location</div>
<div class="t med" style="right:284.5px;top:291.5px;font-size:13.7px">TTFB</div>
<div class="t med" style="right:158.5px;top:291.5px;font-size:13.7px">Error Rate</div>
<div class="t med" style="right:32.5px;top:291.5px;font-size:13.7px">Page Loads</div>

<div class="lnk" style="top:329.83px">Oceania</div>
<svg style="left:883.0px;top:330.5px" width="14" height="14" viewBox="0 0 14 14"><circle cx="5.6" cy="5.8" r="4.7" fill="none" stroke="#ccccdc" stroke-width="1.15"/><path d="M5.6 3.6 V8 M3.4 5.8 H7.8 M9 9.2 L11.8 12" stroke="#ccccdc" stroke-width="1.15" stroke-linecap="round"/></svg>
<div class="num" style="right:288.5px;top:330.00px;color:#e5473f">2.<span style="letter-spacing:-1px">1</span><span style="letter-spacing:-1px">1</span> s</div>
<div class="num" style="right:162.79999999999995px;top:330.00px">237.78%</div>
<div class="num" style="right:36.40000000000009px;top:330.00px"><span style="letter-spacing:-1px">1</span>80</div>
<div class="row" style="top:357px"></div>
<div class="lnk" style="top:372.08px">South America</div>
<svg style="left:922.0px;top:372.8px" width="14" height="14" viewBox="0 0 14 14"><circle cx="5.6" cy="5.8" r="4.7" fill="none" stroke="#ccccdc" stroke-width="1.15"/><path d="M5.6 3.6 V8 M3.4 5.8 H7.8 M9 9.2 L11.8 12" stroke="#ccccdc" stroke-width="1.15" stroke-linecap="round"/></svg>
<div class="num" style="right:288.5px;top:372.25px;color:#ef8a3a"><span style="letter-spacing:-1px">1</span>.26 s</div>
<div class="num" style="right:162.79999999999995px;top:372.25px">40<span style="letter-spacing:-1px">1</span>.32%</div>
<div class="num" style="right:36.40000000000009px;top:372.25px"><span style="letter-spacing:-1px">1</span>44<span style="letter-spacing:-1px">1</span></div>
<div class="row" style="top:399px"></div>
<div class="lnk" style="top:414.33px">Asia</div>
<svg style="left:859.0px;top:415.0px" width="14" height="14" viewBox="0 0 14 14"><circle cx="5.6" cy="5.8" r="4.7" fill="none" stroke="#ccccdc" stroke-width="1.15"/><path d="M5.6 3.6 V8 M3.4 5.8 H7.8 M9 9.2 L11.8 12" stroke="#ccccdc" stroke-width="1.15" stroke-linecap="round"/></svg>
<div class="num" style="right:288.5px;top:414.50px;color:#ef8a3a"><span style="letter-spacing:-1px">1</span>.<span style="letter-spacing:-1px">1</span>2 s</div>
<div class="num" style="right:162.79999999999995px;top:414.50px">329.<span style="letter-spacing:-1px">1</span>0%</div>
<div class="num" style="right:36.40000000000009px;top:414.50px"><span style="letter-spacing:-1px">1</span><span style="letter-spacing:-1px">1</span><span style="letter-spacing:-1px">1</span>7</div>
<div class="row" style="top:442px"></div>
<div class="lnk" style="top:456.58px">North America</div>
<svg style="left:921.0px;top:457.2px" width="14" height="14" viewBox="0 0 14 14"><circle cx="5.6" cy="5.8" r="4.7" fill="none" stroke="#ccccdc" stroke-width="1.15"/><path d="M5.6 3.6 V8 M3.4 5.8 H7.8 M9 9.2 L11.8 12" stroke="#ccccdc" stroke-width="1.15" stroke-linecap="round"/></svg>
<div class="num" style="right:288.5px;top:456.75px;color:#73bf69">783.6<span style="letter-spacing:-1px">1</span> ms</div>
<div class="num" style="right:162.79999999999995px;top:456.75px">525.36%</div>
<div class="num" style="right:36.40000000000009px;top:456.75px">7<span style="letter-spacing:-1px">1</span>80</div>
<div class="row" style="top:484px"></div>
<div class="lnk" style="top:498.83px">Africa</div>
<svg style="left:870.0px;top:499.5px" width="14" height="14" viewBox="0 0 14 14"><circle cx="5.6" cy="5.8" r="4.7" fill="none" stroke="#ccccdc" stroke-width="1.15"/><path d="M5.6 3.6 V8 M3.4 5.8 H7.8 M9 9.2 L11.8 12" stroke="#ccccdc" stroke-width="1.15" stroke-linecap="round"/></svg>
<div class="num" style="right:288.5px;top:499.00px;color:#73bf69">753.06 ms</div>
<div class="num" style="right:162.79999999999995px;top:499.00px">779.57%</div>
<div class="num" style="right:36.40000000000009px;top:499.00px">93</div>
<div class="row" style="top:526px"></div>
<div class="lnk" style="top:541.08px">Europe</div>
<svg style="left:876.0px;top:541.8px" width="14" height="14" viewBox="0 0 14 14"><circle cx="5.6" cy="5.8" r="4.7" fill="none" stroke="#ccccdc" stroke-width="1.15"/><path d="M5.6 3.6 V8 M3.4 5.8 H7.8 M9 9.2 L11.8 12" stroke="#ccccdc" stroke-width="1.15" stroke-linecap="round"/></svg>
<div class="num" style="right:288.5px;top:541.25px;color:#73bf69">487.86 ms</div>
<div class="num" style="right:162.79999999999995px;top:541.25px">537.<span style="letter-spacing:-1px">1</span>2%</div>
<div class="num" style="right:36.40000000000009px;top:541.25px">3834</div>

<!-- Zoom control -->
<div class="abs" style="left:734px;top:467px;width:50px;height:179px;background:#202227;border-radius:6px;box-shadow:0 2px 22px 7px rgba(0,0,0,0.55)"></div>
<svg style="left:750px;top:484px" width="17" height="17" viewBox="0 0 17 17"><path d="M8.5 1.5 V15.5 M1.5 8.5 H15.5" stroke="#ccccdc" stroke-width="1.6"/></svg>
<svg style="left:750px;top:516px" width="17" height="3" viewBox="0 0 17 3"><path d="M1.5 1.5 H15.5" stroke="#ccccdc" stroke-width="1.6"/></svg>
<div class="abs" style="left:757px;top:532px;width:3px;height:99px;background:#55575d;border-radius:2px"></div>
<div class="abs" style="left:752px;top:625px;width:13px;height:13px;border-radius:7px;background:#3d5fd9"></div>

</body></html>
